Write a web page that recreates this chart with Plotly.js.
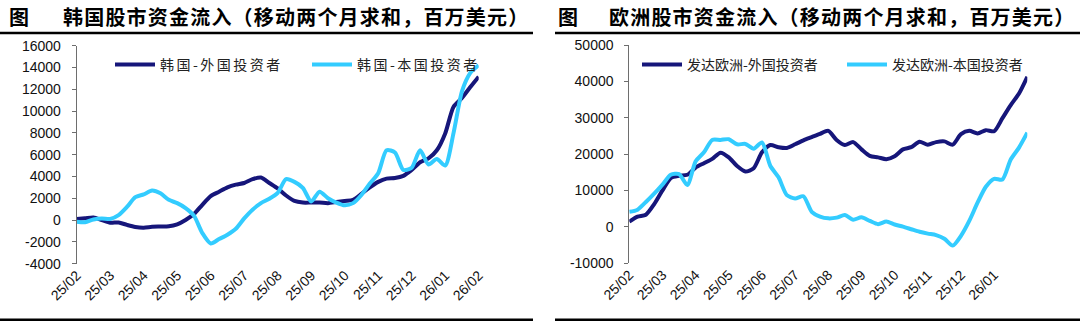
<!DOCTYPE html>
<html><head><meta charset="utf-8">
<script src="https://cdn.plot.ly/plotly-3.0.1.min.js"></script>
<style>
html,body{margin:0;padding:0;background:#fff;}
#chart{width:1080px;height:321px;}
.legendtext{letter-spacing:2.5px;}
.annotation-text{letter-spacing:1.2px;}
</style></head><body><div id="chart"></div>
<script>
// ---- data (moving 2-month sums, USD mn), sampled 4 points per month from 25/02 ----
const krMonths = ['25/02','25/03','25/04','25/05','25/06','25/07','25/08','25/09','25/10','25/11','25/12','26/01','26/02'];
const euMonths = ['25/02','25/03','25/04','25/05','25/06','25/07','25/08','25/09','25/10','25/11','25/12','26/01'];
const krForeignName = '韩国-外国投资者';
const krDomesticName = '韩国-本国投资者';
const euForeignName = '发达欧洲-外国投资者';
const euDomesticName = '发达欧洲-本国投资者';
const krForeign = [100,170,240,0,-250,-220,-450,-640,-700,-620,-600,-580,-400,0,550,1400,2200,2600,3000,3250,3400,3750,3900,3400,2900,2250,1750,1600,1600,1600,1550,1650,1750,1850,2400,3000,3500,3800,3850,4050,4600,5300,5650,6400,7950,10400,11200,12200,13150];
const krDomestic = [-150,-200,50,150,100,450,1200,2100,2350,2700,2450,1850,1550,1100,400,-1200,-2150,-1750,-1350,-800,150,950,1550,1950,2500,3750,3500,2950,1700,2600,2000,1600,1350,1550,2300,3350,4300,6400,6200,4600,4800,6400,5100,5600,5000,8000,11800,13500,14200];
const euForeign = [1400,2750,3300,6200,10000,13400,14000,14300,16300,17500,18700,20400,19100,16700,15200,16100,20500,22500,21900,21700,22700,23800,24700,25600,26400,23900,22500,23300,21300,19500,19100,18600,19400,21300,21900,23400,22600,23300,23500,22600,25500,26400,25700,26600,26300,29900,33500,36700,41300];
const euDomestic = [4100,4700,6800,9100,11600,14300,14500,11500,18000,20500,23900,23900,24100,22700,22800,21500,23200,16800,13600,8700,7800,8400,4100,2800,2300,2500,3200,1900,2600,1600,700,1400,600,0,-700,-1400,-1900,-2300,-3300,-5200,-2500,1600,6600,11000,13200,13000,18500,21800,25900];
const krYTicks = [-4000,-2000,0,2000,4000,6000,8000,10000,12000,14000,16000];
const euYTicks = [-10000,0,10000,20000,30000,40000,50000];
const perMonth = 4;

// ---- layout helpers ----
const W = 1080, H = 321;
const fx = px => px / W;
const fy = py => 1 - py / H;
const xOf = arr => arr.map((_, i) => i / perMonth);
const DARK = '#16167A', LIGHT = '#33CCFF', AX = '#6e6e6e';
const tickFont = {family: 'Liberation Sans, Arial, sans-serif', size: 14, color: '#111'};
const cjk = 'Noto Sans CJK SC, sans-serif';

const L = {xd: [fx(76.7), fx(478.7)], yd: [fy(263.6), fy(45.7)], yr: [-4000, 16000]};
const R = {xd: [fx(629.3), fx(1027.3)], yd: [fy(263), fy(45.2)], yr: [-10000, 50000]};
const zeroPos = p => p.yd[0] + (0 - p.yr[0]) / (p.yr[1] - p.yr[0]) * (p.yd[1] - p.yd[0]);
const idx = n => Array.from({length: n}, (_, i) => i);

function line(x, y, name, color, xa, ya, leg) {
  return {x, y, name, type: 'scatter', mode: 'lines', xaxis: xa, yaxis: ya, legend: leg,
          line: {color, width: 4, shape: 'spline', smoothing: 0.7}};
}
const data = [
  line(xOf(krForeign), krForeign, krForeignName, DARK, 'x', 'y', 'legend'),
  line(xOf(krDomestic), krDomestic, krDomesticName, LIGHT, 'x', 'y', 'legend'),
  line(xOf(euForeign), euForeign, euForeignName, DARK, 'x2', 'y2', 'legend2'),
  line(xOf(euDomestic), euDomestic, euDomesticName, LIGHT, 'x2', 'y2', 'legend2')
];

function labelAxis(p, labels) {
  return {domain: p.xd, range: [0, 12], anchor: 'free', position: p.yd[0], automargin: false,
    tickmode: 'array', tickvals: idx(labels.length), ticktext: labels, tickangle: -45,
    ticks: '', showline: false, showgrid: false, zeroline: false, tickfont: tickFont, fixedrange: true};
}
function zeroAxis(p, over) {
  return {overlaying: over, domain: p.xd, range: [0, 12], anchor: 'free', position: zeroPos(p), automargin: false,
    tickmode: 'array', tickvals: idx(13), showticklabels: false, ticks: 'outside', ticklen: 4,
    tickcolor: AX, tickwidth: 1, showline: true, linecolor: AX, linewidth: 1, showgrid: false, zeroline: false};
}
function yAxis(p, anchor, ticks) {
  return {domain: p.yd, range: p.yr, anchor, automargin: false, tickmode: 'array', tickvals: ticks, ticktext: ticks.map(String),
    ticks: 'outside', ticklen: 4, tickcolor: AX, showline: true, linecolor: AX, linewidth: 1,
    showgrid: false, zeroline: false, tickfont: tickFont, ticklabelstandoff: 8};
}
function legend(xpx, entry) {
  return {orientation: 'h', xref: 'container', yref: 'container', x: fx(xpx), y: fy(65), xanchor: 'left', yanchor: 'middle',
    font: {family: cjk, size: 14, color: '#222'}, bgcolor: 'rgba(0,0,0,0)',
    entrywidth: entry, entrywidthmode: 'pixels', itemwidth: 40, traceorder: 'normal'};
}
function titleAnn(xpx, text) {
  return {xref: 'paper', yref: 'paper', x: fx(xpx), y: fy(16), xanchor: 'left', yanchor: 'middle',
    text: '<b>' + text + '</b>', showarrow: false, font: {family: cjk, size: 20, color: '#000'}};
}
function hline(x0, x1, py) {
  return {type: 'line', xref: 'paper', yref: 'paper', x0: fx(x0), x1: fx(x1), y0: fy(py), y1: fy(py),
    line: {color: '#000', width: 2.5}};
}

const layout = {
  width: W, height: H, margin: {l: 0, r: 0, t: 0, b: 0, autoexpand: false}, paper_bgcolor: '#fff', plot_bgcolor: 'rgba(0,0,0,0)',
  showlegend: true,
  xaxis: labelAxis(L, krMonths), xaxis3: zeroAxis(L, 'x'), yaxis: yAxis(L, 'x', krYTicks),
  xaxis2: labelAxis(R, euMonths), xaxis4: zeroAxis(R, 'x2'), yaxis2: yAxis(R, 'x2', euYTicks),
  legend: legend(110, 142), legend2: legend(637, 150),
  annotations: [titleAnn(7, '图'), titleAnn(61, '韩国股市资金流入（移动两个月求和，百万美元）'),
                titleAnn(556, '图'), titleAnn(607, '欧洲股市资金流入（移动两个月求和，百万美元）')],
  shapes: [hline(0, 533, 33), hline(555, 1080, 33), hline(0, 533, 319.8), hline(555, 1080, 319.8)]
};
Plotly.newPlot('chart', data, layout, {staticPlot: true, displayModeBar: false});
</script></body></html>
